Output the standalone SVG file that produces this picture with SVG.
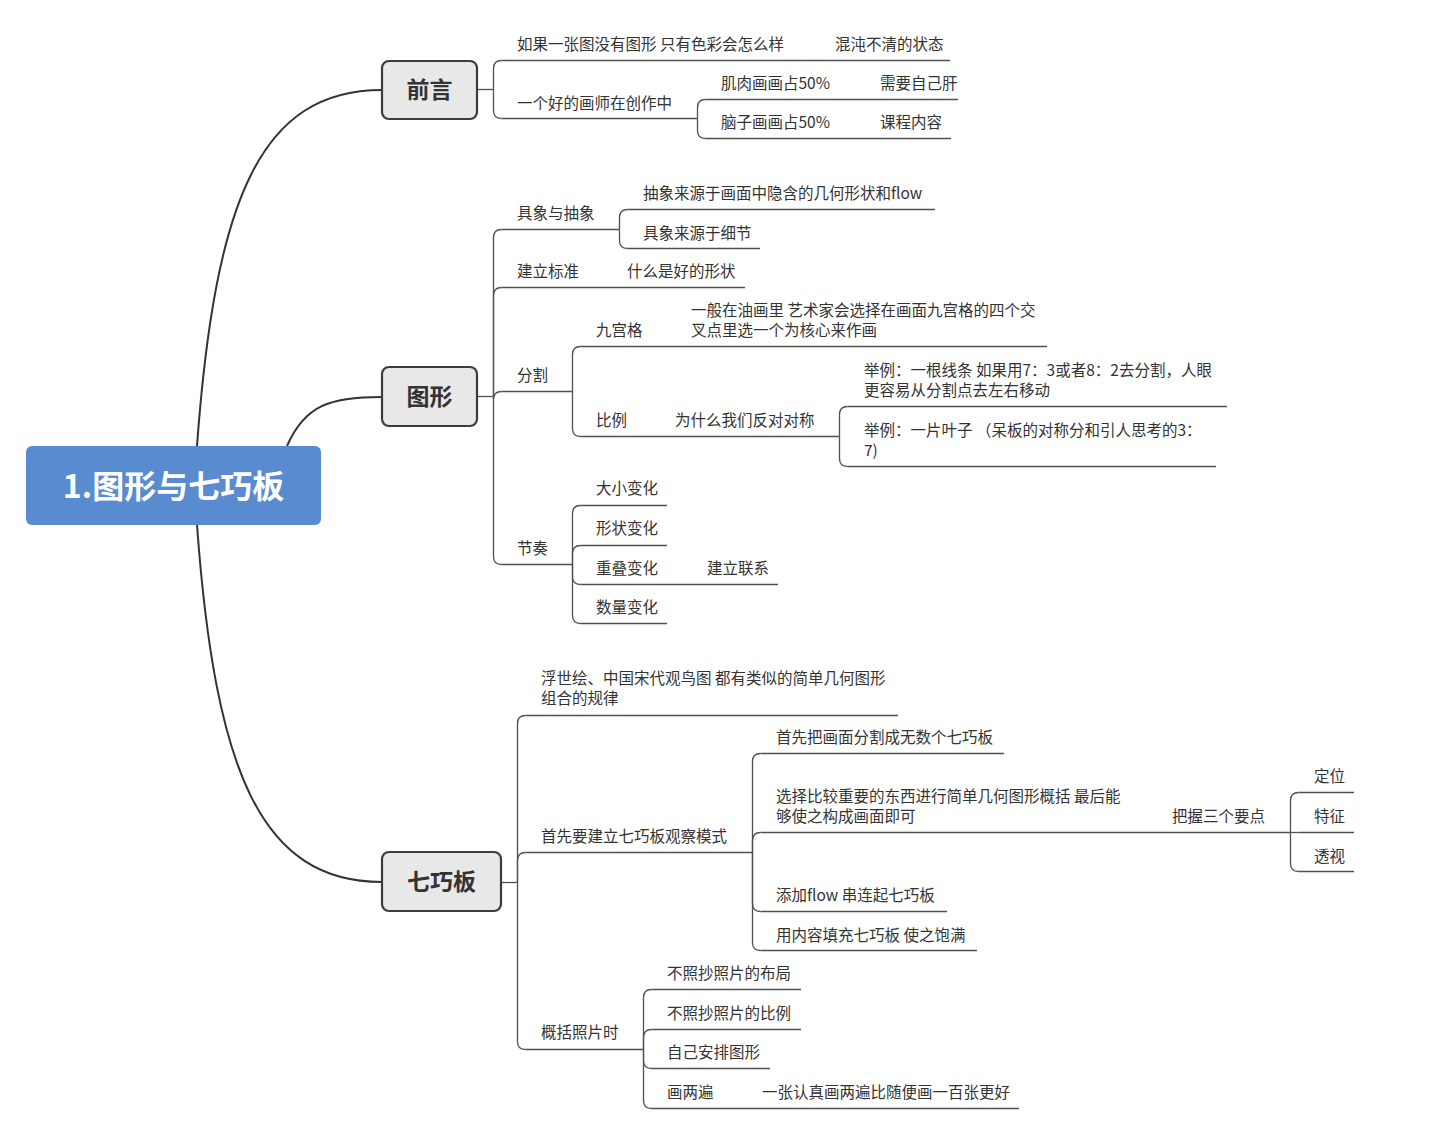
<svg xmlns="http://www.w3.org/2000/svg" width="1442" height="1144" viewBox="0 0 1442 1144">
<style>
.t{font-family:"Noto Sans CJK SC","Noto Sans",sans-serif;font-size:15.5px;fill:#333;dominant-baseline:central;transform:translateY(-1px)}
.u,.c{stroke:#505050;stroke-width:1.3;fill:none}
.m{stroke:#333;stroke-width:2;fill:none}
.box{fill:#e8e8e8;stroke:#3c3c3c;stroke-width:2.2}
.bt{font-family:"Noto Sans CJK SC","Noto Sans",sans-serif;font-size:23px;font-weight:bold;fill:#333;text-anchor:middle;dominant-baseline:central;transform:translateY(-2px)}
</style>
<rect width="1442" height="1144" fill="#fff"/>
<g id="connectors">
<path class="m" d="M197 446 C215 200 260 90 382 90"/>
<path class="m" d="M287 446 C305 405 330 397 382 397"/>
<path class="m" d="M197 525 C215 770 260 882 382 882"/>
<path class="c" d="M477 89.5 H493.5"/>
<path class="c" d="M477 396.5 H493.5"/>
<path class="c" d="M501 882.5 H517.5"/>
<path class="c" d="M493.5 89.5 V68.5 Q493.5 60.5 501.5 60.5"/>
<path class="c" d="M493.5 89.5 V110.5 Q493.5 118.5 501.5 118.5"/>
<path class="c" d="M697.5 118.5 V107.5 Q697.5 99.5 705.5 99.5"/>
<path class="c" d="M697.5 118.5 V130.5 Q697.5 138.5 705.5 138.5"/>
<path class="c" d="M493.5 396.5 V237.5 Q493.5 229.5 501.5 229.5"/>
<path class="c" d="M493.5 396.5 V295.5 Q493.5 287.5 501.5 287.5"/>
<path class="c" d="M493.5 396.5 V399.5 Q493.5 391.5 501.5 391.5"/>
<path class="c" d="M493.5 396.5 V556.5 Q493.5 564.5 501.5 564.5"/>
<path class="c" d="M619.5 229.5 V217.5 Q619.5 209.5 627.5 209.5"/>
<path class="c" d="M619.5 229.5 V240.5 Q619.5 248.5 627.5 248.5"/>
<path class="c" d="M572.5 391.5 V354.5 Q572.5 346.5 580.5 346.5"/>
<path class="c" d="M572.5 391.5 V428.5 Q572.5 436.5 580.5 436.5"/>
<path class="c" d="M839.5 436.5 V414.5 Q839.5 406.5 847.5 406.5"/>
<path class="c" d="M839.5 436.5 V458.5 Q839.5 466.5 847.5 466.5"/>
<path class="c" d="M572.5 564.5 V513.5 Q572.5 505.5 580.5 505.5"/>
<path class="c" d="M572.5 564.5 V553.5 Q572.5 545.5 580.5 545.5"/>
<path class="c" d="M572.5 564.5 V576.5 Q572.5 584.5 580.5 584.5"/>
<path class="c" d="M572.5 564.5 V615.5 Q572.5 623.5 580.5 623.5"/>
<path class="c" d="M517.5 882.5 V723.5 Q517.5 715.5 525.5 715.5"/>
<path class="c" d="M517.5 882.5 V860.5 Q517.5 852.5 525.5 852.5"/>
<path class="c" d="M517.5 882.5 V1041.5 Q517.5 1049.5 525.5 1049.5"/>
<path class="c" d="M752.5 852.5 V761.5 Q752.5 753.5 760.5 753.5"/>
<path class="c" d="M752.5 852.5 V840.5 Q752.5 832.5 760.5 832.5"/>
<path class="c" d="M752.5 852.5 V903.5 Q752.5 911.5 760.5 911.5"/>
<path class="c" d="M752.5 852.5 V942.5 Q752.5 950.5 760.5 950.5"/>
<path class="c" d="M1290.5 832.5 V800.5 Q1290.5 792.5 1298.5 792.5"/>
<path class="c" d="M1290.5 832.5 H1298.5"/>
<path class="c" d="M1290.5 832.5 V863.5 Q1290.5 871.5 1298.5 871.5"/>
<path class="c" d="M643.5 1049.5 V997.5 Q643.5 989.5 651.5 989.5"/>
<path class="c" d="M643.5 1049.5 V1037.5 Q643.5 1029.5 651.5 1029.5"/>
<path class="c" d="M643.5 1049.5 V1060.5 Q643.5 1068.5 651.5 1068.5"/>
<path class="c" d="M643.5 1049.5 V1100.5 Q643.5 1108.5 651.5 1108.5"/>
</g>
<g id="root">
<rect x="26" y="446" width="295" height="79" rx="6" fill="#588bd0"/>
<text x="173.5" y="484" font-family="'Noto Sans CJK SC',sans-serif" font-size="32" font-weight="bold" fill="#fff" text-anchor="middle" dominant-baseline="central">1.图形与七巧板</text>
</g>
<g id="n-qianyan"><rect class="box" x="382" y="61" width="95" height="58" rx="7"/><text class="bt" x="429.5" y="90">前言</text></g>
<g id="n-tuxing"><rect class="box" x="382" y="367" width="95" height="59" rx="7"/><text class="bt" x="429.5" y="397">图形</text></g>
<g id="n-qiqiaoban"><rect class="box" x="382" y="852" width="119" height="59" rx="7"/><text class="bt" x="441.5" y="882">七巧板</text></g>

<g id="a1"><text class="t" x="517" y="44">如果一张图没有图形 只有色彩会怎么样</text><path class="u" d="M501.5 60.5 H835"/></g>
<g id="a1a"><text class="t" x="835" y="44">混沌不清的状态</text><path class="u" d="M835 60.5 H950"/></g>
<g id="a2"><text class="t" x="517" y="103">一个好的画师在创作中</text><path class="u" d="M501.5 118.5 H697.5"/></g>
<g id="a2a"><text class="t" x="721" y="83">肌肉画画占50%</text><path class="u" d="M705.5 99.5 H880"/></g>
<g id="a2a1"><text class="t" x="880" y="83">需要自己肝</text><path class="u" d="M880 99.5 H958"/></g>
<g id="a2b"><text class="t" x="721" y="122">脑子画画占50%</text><path class="u" d="M705.5 138.5 H880"/></g>
<g id="a2b1"><text class="t" x="880" y="122">课程内容</text><path class="u" d="M880 138.5 H951"/></g>

<g id="b1"><text class="t" x="517" y="213">具象与抽象</text><path class="u" d="M501.5 229.5 H619.5"/></g>
<g id="b1a"><text class="t" x="643" y="193">抽象来源于画面中隐含的几何形状和flow</text><path class="u" d="M627.5 209.5 H935"/></g>
<g id="b1b"><text class="t" x="643" y="233">具象来源于细节</text><path class="u" d="M627.5 248.5 H760"/></g>
<g id="b2"><text class="t" x="517" y="271">建立标准</text><path class="u" d="M501.5 287.5 H627"/></g>
<g id="b2a"><text class="t" x="627" y="271">什么是好的形状</text><path class="u" d="M627 287.5 H745"/></g>
<g id="b3"><text class="t" x="517" y="375">分割</text><path class="u" d="M501.5 391.5 H572.5"/></g>
<g id="b3a"><text class="t" x="596" y="330">九宫格</text><path class="u" d="M580.5 346.5 H691"/></g>
<g id="b3a1"><text class="t" x="691" y="310">一般在油画里 艺术家会选择在画面九宫格的四个交</text><text class="t" x="691" y="330">叉点里选一个为核心来作画</text><path class="u" d="M691 346.5 H1047"/></g>
<g id="b3b"><text class="t" x="596" y="420">比例</text><path class="u" d="M580.5 436.5 H675"/></g>
<g id="b3b1"><text class="t" x="675" y="420">为什么我们反对对称</text><path class="u" d="M675 436.5 H839.5"/></g>
<g id="b3b1a"><text class="t" x="864" y="370">举例：一根线条 如果用7：3或者8：2去分割，人眼</text><text class="t" x="864" y="390">更容易从分割点去左右移动</text><path class="u" d="M847.5 406.5 H1227"/></g>
<g id="b3b1b"><text class="t" x="864" y="430">举例：一片叶子 （呆板的对称分和引人思考的3：</text><text class="t" x="864" y="450">7)</text><path class="u" d="M847.5 466.5 H1216"/></g>
<g id="b4"><text class="t" x="517" y="548">节奏</text><path class="u" d="M501.5 564.5 H572.5"/></g>
<g id="b4a"><text class="t" x="596" y="488">大小变化</text><path class="u" d="M580.5 505.5 H667"/></g>
<g id="b4b"><text class="t" x="596" y="528">形状变化</text><path class="u" d="M580.5 545.5 H667"/></g>
<g id="b4c"><text class="t" x="596" y="568">重叠变化</text><path class="u" d="M580.5 584.5 H707"/></g>
<g id="b4c1"><text class="t" x="707" y="568">建立联系</text><path class="u" d="M707 584.5 H778"/></g>
<g id="b4d"><text class="t" x="596" y="607">数量变化</text><path class="u" d="M580.5 623.5 H667"/></g>

<g id="c1"><text class="t" x="541" y="678">浮世绘、中国宋代观鸟图 都有类似的简单几何图形</text><text class="t" x="541" y="698">组合的规律</text><path class="u" d="M525.5 715.5 H898"/></g>
<g id="c2"><text class="t" x="541" y="836">首先要建立七巧板观察模式</text><path class="u" d="M525.5 852.5 H752.5"/></g>
<g id="c2a"><text class="t" x="776" y="737">首先把画面分割成无数个七巧板</text><path class="u" d="M760.5 753.5 H1004"/></g>
<g id="c2b"><text class="t" x="776" y="796">选择比较重要的东西进行简单几何图形概括 最后能</text><text class="t" x="776" y="816">够使之构成画面即可</text><path class="u" d="M760.5 832.5 H1172"/></g>
<g id="c2b1"><text class="t" x="1172" y="816">把握三个要点</text><path class="u" d="M1172 832.5 H1290.5"/></g>
<g id="c2b1a"><text class="t" x="1314" y="776">定位</text><path class="u" d="M1298.5 792.5 H1354"/></g>
<g id="c2b1b"><text class="t" x="1314" y="816">特征</text><path class="u" d="M1298.5 832.5 H1354"/></g>
<g id="c2b1c"><text class="t" x="1314" y="856">透视</text><path class="u" d="M1298.5 871.5 H1354"/></g>
<g id="c2c"><text class="t" x="776" y="895">添加flow 串连起七巧板</text><path class="u" d="M760.5 911.5 H947"/></g>
<g id="c2d"><text class="t" x="776" y="935">用内容填充七巧板 使之饱满</text><path class="u" d="M760.5 950.5 H977"/></g>
<g id="c3"><text class="t" x="541" y="1032">概括照片时</text><path class="u" d="M525.5 1049.5 H643.5"/></g>
<g id="c3a"><text class="t" x="667" y="973">不照抄照片的布局</text><path class="u" d="M651.5 989.5 H801"/></g>
<g id="c3b"><text class="t" x="667" y="1013">不照抄照片的比例</text><path class="u" d="M651.5 1029.5 H801"/></g>
<g id="c3c"><text class="t" x="667" y="1052">自己安排图形</text><path class="u" d="M651.5 1068.5 H770"/></g>
<g id="c3d"><text class="t" x="667" y="1092">画两遍</text><path class="u" d="M651.5 1108.5 H762"/></g>
<g id="c3d1"><text class="t" x="762" y="1092">一张认真画两遍比随便画一百张更好</text><path class="u" d="M762 1108.5 H1019"/></g>
</svg>
